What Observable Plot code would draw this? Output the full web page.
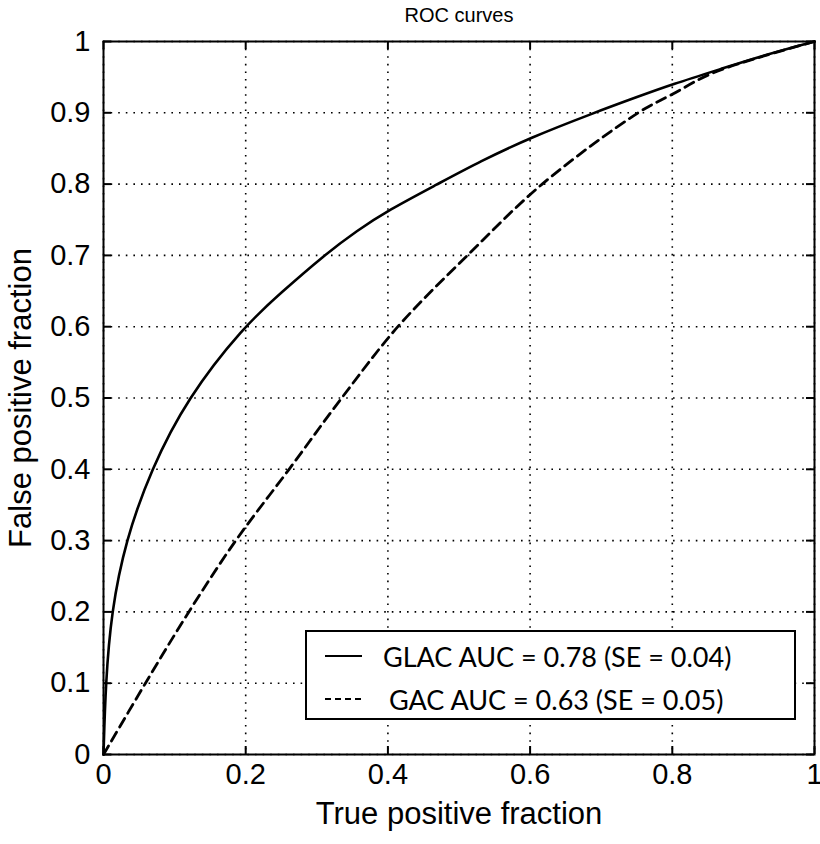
<!DOCTYPE html>
<html>
<head>
<meta charset="utf-8">
<script src="https://cdn.jsdelivr.net/npm/d3@7"></script>
<script src="https://cdn.jsdelivr.net/npm/@observablehq/plot@0.6"></script>
<style>
  html, body { margin: 0; padding: 0; background: #fff; }
  #wrap { position: relative; width: 820px; height: 844px; }
  #legend {
    position: absolute; left: 305px; top: 630px; width: 487px; height: 86px;
    border: 2px solid #000; background: #fff; font-family: Lato, "Open Sans", sans-serif;
    font-size: 27px; color: #000;
  }
  .row { position: absolute; left: 0; height: 30px; display: flex; align-items: center; white-space: nowrap; }
  .row svg { display: block; }
</style>
</head>
<body>
<div id="wrap"></div>
<script>
// ---- data ----
const glacX = [0, 0.003, 0.011, 0.031, 0.067, 0.118, 0.197, 0.25, 0.31, 0.357, 0.4, 0.47, 0.53, 0.6, 0.69, 0.75, 0.8, 0.87, 0.93, 1];
const glacY = [0, 0.1, 0.2, 0.3, 0.4, 0.5, 0.6, 0.648, 0.7, 0.735, 0.763, 0.8, 0.832, 0.865, 0.9, 0.922, 0.94, 0.962, 0.981, 1];
const gacX = [0, 0.059, 0.12, 0.186, 0.261, 0.335, 0.414, 0.512, 0.617, 0.752, 0.8, 0.855, 0.93, 1];
const gacY = [0, 0.1, 0.2, 0.3, 0.4, 0.5, 0.6, 0.7, 0.8, 0.9, 0.926, 0.955, 0.98, 1];
const xTicks = [0, 0.2, 0.4, 0.6, 0.8, 1];
const yTicks = [0, 0.1, 0.2, 0.3, 0.4, 0.5, 0.6, 0.7, 0.8, 0.9, 1];
const seriesNames = ["GLAC AUC = 0.78 (SE = 0.04)", "GAC AUC = 0.63 (SE = 0.05)"];
const titleText = "ROC curves";
const xLabel = "True positive fraction";
const yLabel = "False positive fraction";

const glac = glacX.map((x, i) => ({x, y: glacY[i]}));
const gac = gacX.map((x, i) => ({x, y: gacY[i]}));

const W = 820, H = 844, mL = 103, mR = 6, mT = 41, mB = 90;
const pw = W - mL - mR, ph = H - mT - mB;
const fmt = d => String(+d.toFixed(1));
const tickFont = "Liberation Sans, Arial, sans-serif";

const chart = Plot.plot({
  width: W, height: H,
  marginLeft: mL, marginRight: mR, marginTop: mT, marginBottom: mB,
  x: {domain: [0, 1], ticks: xTicks},
  y: {domain: [0, 1], ticks: yTicks},
  style: {fontFamily: tickFont, background: "#fff", color: "#000", overflow: "visible"},
  marks: [
    Plot.gridX(xTicks, {stroke: "#000", strokeOpacity: 1, strokeWidth: 1.6, strokeDasharray: "1.6,6"}),
    Plot.gridY(yTicks, {stroke: "#000", strokeOpacity: 1, strokeWidth: 1.6, strokeDasharray: "1.6,6"}),
    // inward ticks on all four sides
    Plot.tickX(xTicks, {x: d => d, stroke: "#000", strokeWidth: 2, insetBottom: ph - 8}),
    Plot.tickX(xTicks, {x: d => d, stroke: "#000", strokeWidth: 2, insetTop: ph - 8}),
    Plot.tickY(yTicks, {y: d => d, stroke: "#000", strokeWidth: 2, insetRight: pw - 8}),
    Plot.tickY(yTicks, {y: d => d, stroke: "#000", strokeWidth: 2, insetLeft: pw - 8}),
    Plot.line(gac, {x: "x", y: "y", stroke: "#000", strokeWidth: 2.8, strokeDasharray: "10,6", curve: "catmull-rom"}),
    Plot.line(glac, {x: "x", y: "y", stroke: "#000", strokeWidth: 2.6, curve: "basis"}),
    Plot.frame({stroke: "#000", strokeWidth: 2}),
    Plot.axisX(xTicks, {tickSize: 0, tickPadding: 9, fontSize: 29, tickFormat: fmt, label: null}),
    Plot.axisY(yTicks, {tickSize: 0, tickPadding: 13, fontSize: 29, tickFormat: fmt, label: null}),
    Plot.text([titleText], {frameAnchor: "top", dy: -26, lineAnchor: "middle", fontSize: 20, fill: "#000"}),
    Plot.text([xLabel], {frameAnchor: "bottom", dy: 60, lineAnchor: "middle", fontSize: 31, fill: "#000"}),
    Plot.text([yLabel], {frameAnchor: "left", dx: -82, rotate: -90, textAnchor: "middle", lineAnchor: "middle", fontSize: 31, fill: "#000"})
  ]
});
document.getElementById("wrap").appendChild(chart);

// legend
const legend = document.createElement("div");
legend.id = "legend";
const rows = [
  {name: seriesNames[0], dash: null, top: 9, textLeft: 76},
  {name: seriesNames[1], dash: "6,4", top: 52, textLeft: 82}
];
rows.forEach(r => {
  const row = document.createElement("div");
  row.className = "row";
  row.style.top = r.top + "px";
  const ns = "http://www.w3.org/2000/svg";
  const s = document.createElementNS(ns, "svg");
  s.setAttribute("width", r.textLeft);
  s.setAttribute("height", 30);
  const ln = document.createElementNS(ns, "line");
  ln.setAttribute("x1", 18); ln.setAttribute("x2", 55);
  ln.setAttribute("y1", 15); ln.setAttribute("y2", 15);
  ln.setAttribute("stroke", "#000"); ln.setAttribute("stroke-width", 2.2);
  if (r.dash) ln.setAttribute("stroke-dasharray", r.dash);
  s.appendChild(ln);
  row.appendChild(s);
  const t = document.createElement("span");
  t.textContent = r.name;
  row.appendChild(t);
  legend.appendChild(row);
});
document.getElementById("wrap").appendChild(legend);
</script>
</body>
</html>
